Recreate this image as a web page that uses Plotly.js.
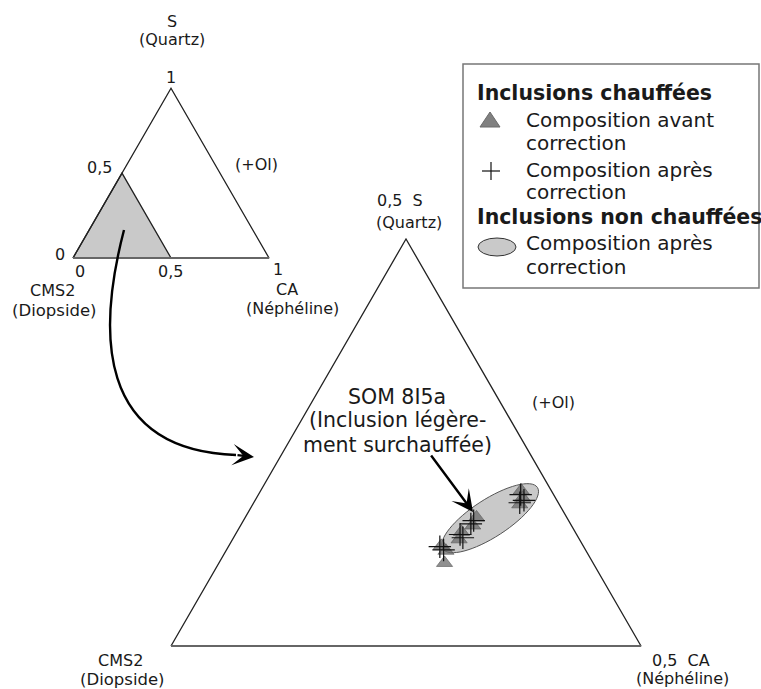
<!DOCTYPE html>
<html>
<head>
<meta charset="utf-8">
<script src="https://cdn.plot.ly/plotly-3.0.1.min.js"></script>
<style>
  html, body { margin: 0; padding: 0; background: #fff; }
  #chart { width: 761px; height: 689px; }
</style>
</head>
<body>
<div id="chart"></div>
<script>
// compositions as fractions, CMS2 = 1 - S - CA
const avantS  = [0.191, 0.182, 0.174, 0.158, 0.148, 0.140, 0.131, 0.123, 0.117, 0.102];
const avantCA = [0.277, 0.283, 0.284, 0.246, 0.247, 0.239, 0.241, 0.226, 0.234, 0.240];
const apresS  = [0.186, 0.179, 0.176, 0.154, 0.150, 0.137, 0.133, 0.122, 0.118];
const apresCA = [0.279, 0.286, 0.283, 0.245, 0.244, 0.239, 0.244, 0.225, 0.231];

// triangle corners (CMS2 -> CA -> S -> CMS2)
const fullS  = [0, 0, 1, 0];
const fullCA = [0, 1, 0, 0];
const zoomS  = [0, 0, 0.5, 0];
const zoomCA = [0, 0.5, 0, 0];

// field of the non heated inclusions (centre in S / CA, half axes in plot units)
const fieldS = 0.157, fieldCA = 0.261, fieldA = 0.06, fieldB = 0.02, fieldAngle = 33;

const tickLabels = ['0', '0,5', '1'];
const legendTitles = ['Inclusions chauffées', 'Inclusions non chauffées'];
const legendItems = [['Composition avant', 'correction'], ['Composition après', 'correction'], ['Composition après', 'correction']];

const SQ = Math.sqrt(3) / 2;
const tx = (s, ca) => s.map((v, i) => ca[i] + v / 2);
const ty = s => s.map(v => v * SQ);

const W = 761, H = 689;
const px = x => x / W;
const py = y => 1 - y / H;
const FONT = 'DejaVu Sans';
const INK = '#1a1a1a';

// axis pair for a triangle whose base runs from x0 to x1 (pixels) at pixel row yb
function axes(x0, x1, yb, span, pad) {
  const k = (x1 - x0) / span;
  const h = span * SQ * k;
  const p = pad / k;
  return [
    { domain: [px(x0 - pad), px(x1 + pad)], range: [-p, span + p], visible: false, fixedrange: true },
    { domain: [py(yb + pad), py(yb - h - pad)], range: [-p, span * SQ + p], visible: false, fixedrange: true }
  ];
}
const [xa1, ya1] = axes(73, 269, 258, 1, 8);
const [xa2, ya2] = axes(171, 641, 646, 0.5, 12);

function ellipsePath(cx, cy, a, b, deg) {
  const t = deg * Math.PI / 180, c = Math.cos(t), s = Math.sin(t), k = 0.5523;
  const P = (u, v) => (cx + u * c - v * s).toFixed(5) + ',' + (cy + u * s + v * c).toFixed(5);
  return 'M' + P(a, 0) +
    ' C' + P(a, k * b) + ' ' + P(k * a, b) + ' ' + P(0, b) +
    ' C' + P(-k * a, b) + ' ' + P(-a, k * b) + ' ' + P(-a, 0) +
    ' C' + P(-a, -k * b) + ' ' + P(-k * a, -b) + ' ' + P(0, -b) +
    ' C' + P(k * a, -b) + ' ' + P(a, -k * b) + ' ' + P(a, 0) + ' Z';
}

const outline = { color: '#222', width: 1.3 };
const baseLine = { color: '#666', width: 2 };

const data = [
  { x: tx(zoomS, zoomCA), y: ty(zoomS), xaxis: 'x', yaxis: 'y', mode: 'lines',
    fill: 'toself', fillcolor: '#c9c9c9', line: outline, hoverinfo: 'skip' },
  { x: tx(fullS, fullCA), y: ty(fullS), xaxis: 'x', yaxis: 'y', mode: 'lines',
    line: outline, hoverinfo: 'skip' },
  { x: tx(fullS.slice(0, 2), fullCA.slice(0, 2)), y: ty(fullS.slice(0, 2)), xaxis: 'x', yaxis: 'y',
    mode: 'lines', line: baseLine, hoverinfo: 'skip' },
  { x: tx(zoomS, zoomCA), y: ty(zoomS), xaxis: 'x2', yaxis: 'y2', mode: 'lines',
    line: outline, hoverinfo: 'skip' },
  { x: tx(zoomS.slice(0, 2), zoomCA.slice(0, 2)), y: ty(zoomS.slice(0, 2)), xaxis: 'x2', yaxis: 'y2',
    mode: 'lines', line: baseLine, hoverinfo: 'skip' },
  { x: tx(avantS, avantCA), y: ty(avantS), xaxis: 'x2', yaxis: 'y2', mode: 'markers',
    name: 'Composition avant correction',
    marker: { symbol: 'triangle-up', size: 14, color: 'rgba(105,105,105,0.75)', line: { color: '#555', width: 0.6 } } },
  { x: tx(apresS, apresCA), y: ty(apresS), xaxis: 'x2', yaxis: 'y2', mode: 'markers',
    name: 'Composition après correction',
    marker: { symbol: 'cross-thin', size: 16, line: { color: '#111', width: 1.2 } } }
];

const shapes = [
  { type: 'path', xref: 'x2', yref: 'y2', layer: 'below',
    path: ellipsePath(fieldCA + fieldS / 2, fieldS * SQ, fieldA, fieldB, fieldAngle),
    fillcolor: '#c9c9c9', line: { color: '#555', width: 1 } },
  // curved arrow from the zoom area to the enlarged triangle
  { type: 'path', xref: 'paper', yref: 'paper',
    path: `M${px(124)},${py(230)} C${px(98)},${py(330)} ${px(95)},${py(450)} ${px(236)},${py(455)}`,
    line: { color: '#000', width: 2.4 } },
  // legend frame and keys
  { type: 'rect', xref: 'paper', yref: 'paper', x0: px(463), x1: px(759), y0: py(288), y1: py(64),
    line: { color: '#777', width: 1.5 }, fillcolor: 'rgba(0,0,0,0)' },
  { type: 'path', xref: 'paper', yref: 'paper',
    path: `M${px(480)},${py(127)} L${px(500)},${py(127)} L${px(490)},${py(112)} Z`,
    fillcolor: '#808080', line: { color: '#6a6a6a', width: 1 } },
  { type: 'line', xref: 'paper', yref: 'paper', x0: px(482), x1: px(500), y0: py(171), y1: py(171),
    line: { color: '#111', width: 1.2 } },
  { type: 'line', xref: 'paper', yref: 'paper', x0: px(491), x1: px(491), y0: py(162), y1: py(180),
    line: { color: '#111', width: 1.2 } },
  { type: 'circle', xref: 'paper', yref: 'paper', x0: px(478), x1: px(516), y0: py(256), y1: py(238),
    fillcolor: '#c9c9c9', line: { color: '#333', width: 1 } }
];

const annotations = [];
function label(text, x, y, size, opts) {
  annotations.push(Object.assign({
    text: text, x: px(x), y: py(y), xref: 'paper', yref: 'paper',
    showarrow: false, xanchor: 'center', yanchor: 'middle',
    font: { family: FONT, size: size, color: INK }
  }, opts || {}));
}

// small triangle
label('S', 172, 21, 16);
label('(Quartz)', 172, 40, 16);
label(tickLabels[2], 171, 78, 16);
label('(+Ol)', 256, 165, 16);
label(tickLabels[1], 99, 167, 16);
label(tickLabels[0], 60, 254, 16);
label(tickLabels[0], 80, 271, 16);
label(tickLabels[1], 170, 271, 16);
label(tickLabels[2], 278, 269, 16);
label('CMS2', 52, 290, 16);
label('(Diopside)', 54, 310, 16.5);
label('CA', 287, 289, 16);
label('(Néphéline)', 292, 308, 16);

// enlarged triangle
label('0,5\u00a0\u00a0S', 400, 201, 16);
label('(Quartz)', 409, 222, 16);
label('(+Ol)', 553, 402, 16);
label('CMS2', 120, 660, 16);
label('(Diopside)', 122, 679, 16.5);
label('0,5\u00a0\u00a0CA', 681, 660, 16);
label('(Néphéline)', 682, 678, 16);
label('SOM 8I5a', 397, 397, 20.5);
label('(Inclusion légère-', 397, 420, 20.5);
label('ment surchauffée)', 397, 445, 20.5);

// legend text
label('<b>' + legendTitles[0] + '</b>', 475, 93, 20.5, { xanchor: 'left' });
label(legendItems[0][0], 524, 120, 20, { xanchor: 'left' });
label(legendItems[0][1], 524, 143, 20, { xanchor: 'left' });
label(legendItems[1][0], 524, 170, 20, { xanchor: 'left' });
label(legendItems[1][1], 524, 192, 20, { xanchor: 'left' });
label('<b>' + legendTitles[1] + '</b>', 475, 217, 20.5, { xanchor: 'left' });
label(legendItems[2][0], 524, 243, 20, { xanchor: 'left' });
label(legendItems[2][1], 524, 267, 20, { xanchor: 'left' });

// arrow heads
annotations.push({ text: '', x: px(254), y: py(457), xref: 'paper', yref: 'paper',
  showarrow: true, ax: -18, ay: -2, arrowhead: 3, arrowsize: 1.5, arrowwidth: 2.4, arrowcolor: '#000' });
annotations.push({ text: '', x: px(473), y: py(512), xref: 'paper', yref: 'paper',
  showarrow: true, ax: -43, ay: -58, arrowhead: 3, arrowsize: 1.5, arrowwidth: 2.4, arrowcolor: '#000' });

const layout = {
  width: W, height: H,
  margin: { l: 0, r: 0, t: 0, b: 0 },
  showlegend: false,
  paper_bgcolor: '#fff',
  plot_bgcolor: 'rgba(0,0,0,0)',
  xaxis: xa1, yaxis: ya1,
  xaxis2: Object.assign(xa2, { anchor: 'y2' }),
  yaxis2: Object.assign(ya2, { anchor: 'x2' }),
  shapes: shapes,
  annotations: annotations,
  hovermode: false
};

Plotly.newPlot('chart', data, layout, { staticPlot: true, displayModeBar: false });
</script>
</body>
</html>
